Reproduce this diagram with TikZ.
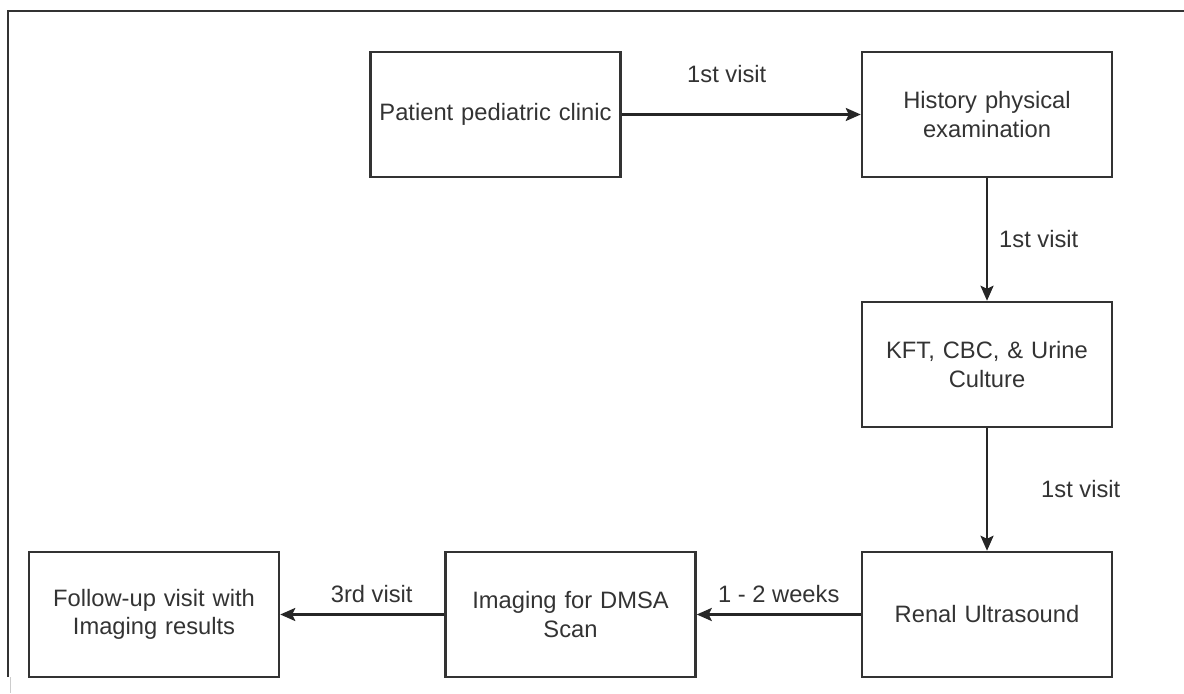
\documentclass[tikz,border=0pt]{standalone}
\usepackage{fontspec}
\setmainfont{Liberation Sans}
\usetikzlibrary{arrows.meta,positioning}

\tikzset{
  stage/.style={draw=black!80, line width=1.4pt, minimum width=5cm, minimum height=2.5cm,
    text width=4.8cm, align=center, inner sep=0pt, text=black!80,
    font=\fontsize{13.5}{16}\selectfont},
  flow/.style={draw=black!85, line width=1.4pt, -{Stealth[length=0.3cm,width=0.26cm,inset=0.06cm]}},
  visit/.style={inner sep=0pt, text=black!80, font=\fontsize{13.5}{16}\selectfont}
}

\begin{document}
\begin{tikzpicture}
  \useasboundingbox (0,0) rectangle (23.68,13.86);

  % рамка зверху і зліва
  \draw[line width=1.4pt, black!80] (23.68,13.64) -- (0.16,13.64) -- (0.16,0.32);
  \draw[black!20] (0.2,0.32) -- (0.2,0);

  \node[stage] (clinic)   at (9.91,11.57)  {Patient pediatric clinic};
  \node[stage] (history)  at (19.74,11.57) {History physical\\examination};
  \node[stage] (labs)     at (19.74,6.57)  {KFT, CBC, \& Urine\\Culture};
  \node[stage] (renal)    at (19.74,1.57)  {Renal Ultrasound};
  \node[stage] (dmsa)     at (11.41,1.57)  {Imaging for DMSA\\Scan};
  \node[stage] (followup) at (3.08,1.57)   {Follow-up visit with\\Imaging results};

  \draw[flow] (clinic) -- node[visit, above=0.62cm, xshift=-0.29cm] {1st visit} (history);
  \draw[flow] (history) -- node[visit, right=0.22cm] {1st visit} (labs);
  \draw[flow] (labs) -- node[visit, right=1.06cm] {1st visit} (renal);
  \draw[flow] (renal) -- node[visit, above=0.22cm] {1 - 2 weeks} (dmsa);
  \draw[flow] (dmsa) -- node[visit, above=0.22cm, xshift=0.19cm] {3rd visit} (followup);
\end{tikzpicture}
\end{document}
